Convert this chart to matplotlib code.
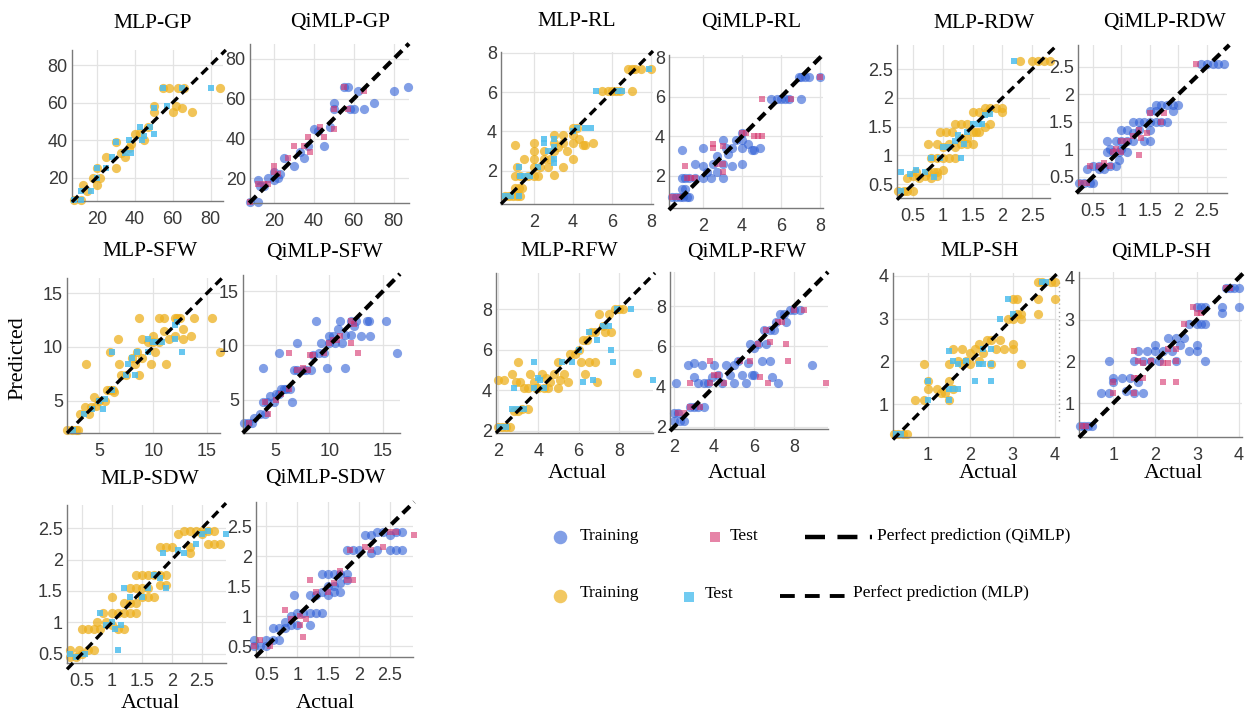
import matplotlib
matplotlib.use("Agg")
import matplotlib.pyplot as plt
from matplotlib.ticker import FixedLocator, FuncFormatter

# ---------------- data (actual, predicted) ----------------
GP_MLP_TRAIN = [(8,8),(12,8),(13,16),(15,13),(18,20),(20,16),(22,20),(20,25),(25,31),(30,25),(30,39),(33,33),(35,31),(37,36),(38,38),(40,43),(43,44),(45,40),(47,47),(50,55),(50,58),(55,68),(58,68),(60,55),(62,58),(63,68),(65,57),(66,68),(70,55),(85,68)]
GP_MLP_TEST = [(8,8),(12,8),(12,13),(17,13),(20,20),(20,25),(25,25),(28,31),(30,39),(35,33),(37,40),(38,33),(43,47),(44,40),(45,42),(48,47),(50,43),(50,57),(55,68),(57,58),(65,68),(80,68)]
GP_QI_TRAIN = [(8,8),(12,8),(12,19),(13,16),(15,16),(17,20),(20,19),(20,23),(22,20),(23,22),(25,30),(30,26),(33,33),(35,30),(37,36),(40,45),(42,44),(45,36),(48,46),(50,55),(50,58),(55,66),(57,66),(58,55),(60,55),(62,64),(65,55),(70,58),(80,64),(87,66)]
GP_QI_TEST = [(8,8),(12,17),(15,17),(17,17),(20,23),(20,26),(22,22),(27,30),(30,36),(35,36),(37,41),(38,33),(43,46),(45,41),(50,45),(50,55),(55,66),(57,55),(65,64)]

RL_MLP_TRAIN = [(0.5,0.7),(0.7,0.7),(0.9,0.7),(1.1,0.7),(1.3,0.7),(1.0,1.1),(1.2,1.1),(1.4,1.1),(1.0,1.75),(1.3,1.75),(1.7,1.75),(2.0,1.75),(2.2,1.75),(1.1,2.2),(1.0,3.3),(1.5,2.6),(2.0,2.2),(2.0,2.6),(2.0,3.0),(2.0,3.4),(2.3,2.2),(2.5,2.6),(2.5,3.0),(2.7,2.2),(2.8,2.6),(3.0,1.8),(3.0,3.0),(3.0,3.4),(3.0,3.8),(3.2,3.2),(3.5,3.4),(3.5,3.8),(3.5,2.2),(3.7,3.0),(4.0,2.6),(4.0,3.4),(4.0,3.8),(4.0,4.2),(4.2,4.2),(4.3,3.6),(4.5,3.3),(4.6,3.3),(5.0,3.4),(5.5,6.05),(5.8,6.05),(6.0,6.05),(6.2,6.05),(6.4,6.05),(7.0,6.05),(6.8,7.2),(7.0,7.2),(7.2,7.2),(7.5,7.2),(8.0,7.2)]
RL_MLP_TEST = [(0.5,0.7),(0.8,0.7),(1.2,0.7),(1.3,1.75),(1.2,2.2),(1.5,1.75),(1.8,1.75),(2.2,2.2),(2.5,3.4),(2.5,3.6),(2.7,3.0),(3.0,2.4),(3.0,3.6),(3.0,2.6),(3.0,3.2),(4.0,4.0),(4.2,4.2),(4.6,4.2),(4.9,4.2),(5.2,6.05),(6.3,6.05),(6.5,6.05),(7.9,7.2)]
RL_QI_TRAIN = [(0.4,0.9),(0.6,0.9),(0.8,0.9),(1.0,0.9),(1.2,0.9),(1.3,0.9),(0.9,1.3),(1.1,1.3),(0.9,1.9),(1.1,1.9),(0.9,3.3),(1.3,1.9),(1.6,1.9),(1.6,2.6),(2.0,1.9),(2.0,2.5),(2.0,3.4),(2.2,2.2),(2.4,1.9),(2.5,2.6),(2.7,2.2),(2.7,3.0),(3.0,1.9),(3.0,2.6),(3.0,3.8),(3.2,3.4),(3.3,3.1),(3.5,2.5),(3.5,3.4),(3.7,3.8),(4.0,2.6),(4.0,3.4),(4.0,3.8),(4.0,4.15),(4.3,3.6),(4.5,3.3),(4.6,3.3),(4.9,3.4),(5.5,5.9),(5.8,5.9),(6.0,5.9),(6.2,5.9),(6.4,5.9),(7.0,5.9),(6.9,7.0),(7.0,7.0),(7.2,7.0),(7.4,7.0),(8.0,7.0)]
RL_QI_TEST = [(0.4,0.9),(0.7,0.9),(1.1,2.5),(1.2,1.9),(1.4,1.9),(1.6,1.9),(2.5,3.6),(2.5,3.4),(2.7,2.6),(3.0,2.2),(3.0,3.5),(3.0,2.6),(4.0,4.15),(4.2,4.15),(4.6,4.0),(4.8,4.0),(5.0,4.0),(5.0,5.9),(6.5,5.9),(8.0,7.0)]

RDW_MLP_TRAIN = [(0.25,0.38),(0.35,0.38),(0.4,0.38),(0.5,0.38),(0.4,0.6),(0.5,0.65),(0.55,0.72),(0.6,0.6),(0.7,0.65),(0.75,0.72),(0.8,0.6),(0.85,0.72),(0.9,0.65),(0.9,0.72),(1.0,0.75),(0.8,0.95),(0.9,0.95),(1.0,0.95),(1.1,0.95),(1.2,0.95),(0.75,1.2),(0.9,1.2),(1.0,1.15),(1.1,1.2),(1.2,1.15),(1.3,1.2),(1.4,1.2),(1.5,1.2),(0.95,1.4),(1.05,1.4),(1.15,1.4),(1.2,1.55),(1.3,1.55),(1.4,1.55),(1.5,1.4),(1.55,1.4),(1.6,1.4),(1.7,1.5),(1.8,1.55),(1.3,1.3),(1.4,1.3),(1.5,1.75),(1.6,1.75),(1.7,1.82),(1.8,1.82),(1.9,1.82),(2.0,1.82),(1.75,1.75),(2.0,1.75),(2.3,2.65),(2.5,2.65),(2.6,2.65),(2.7,2.65),(2.8,2.65)]
RDW_MLP_TEST = [(0.3,0.38),(0.3,0.72),(0.45,0.68),(0.55,0.75),(0.7,0.72),(0.85,0.62),(0.8,0.95),(0.95,0.95),(1.0,1.15),(1.1,1.15),(1.2,1.25),(1.25,1.35),(1.3,0.95),(1.35,1.2),(1.4,1.4),(1.5,1.55),(1.6,1.55),(1.65,1.55),(1.7,1.7),(1.8,1.72),(2.2,2.65)]
RDW_QI_TRAIN = [(0.25,0.4),(0.35,0.4),(0.45,0.4),(0.5,0.4),(0.4,0.65),(0.5,0.7),(0.6,0.65),(0.6,0.7),(0.7,0.65),(0.8,0.7),(0.9,0.7),(0.95,0.8),(0.75,0.95),(0.85,0.95),(0.95,0.95),(0.8,1.0),(1.0,1.0),(1.1,0.95),(0.75,1.15),(0.9,1.15),(1.0,1.15),(1.1,1.15),(1.2,1.15),(1.4,1.15),(1.5,1.15),(1.0,1.35),(1.1,1.35),(1.2,1.3),(1.3,1.35),(1.5,1.35),(1.2,1.5),(1.3,1.5),(1.4,1.5),(1.5,1.5),(1.6,1.5),(1.7,1.5),(1.8,1.5),(1.5,1.7),(1.6,1.7),(1.6,1.8),(1.7,1.8),(1.8,1.8),(1.9,1.8),(2.0,1.8),(1.9,1.7),(2.4,2.55),(2.5,2.55),(2.6,2.55),(2.7,2.55),(2.8,2.55)]
RDW_QI_TEST = [(0.3,0.4),(0.4,0.4),(0.45,0.7),(0.6,0.7),(0.7,0.75),(0.8,0.7),(0.85,0.95),(0.9,1.0),(1.0,1.15),(1.1,1.15),(1.2,1.25),(1.3,1.35),(1.35,1.2),(1.45,1.3),(1.5,1.65),(1.7,1.5),(1.75,1.65),(1.0,0.95),(1.3,0.9),(2.3,2.55)]

SFW_MLP_TRAIN = [(2.0,2.3),(2.5,2.3),(3.0,2.3),(2.8,2.3),(3.2,3.8),(3.7,4.4),(4.0,3.8),(4.2,4.4),(4.5,5.3),(4.7,4.5),(5.0,5.0),(5.5,5.0),(5.7,6.0),(6.0,6.0),(6.3,6.0),(6.4,5.8),(3.8,8.4),(6.0,9.5),(6.7,10.7),(7.0,7.4),(7.5,7.4),(6.8,8.4),(8.3,8.4),(8.7,7.4),(8.7,12.7),(8.0,9.0),(8.5,9.5),(9.0,9.0),(9.0,10.7),(9.5,10.5),(9.8,8.4),(10.0,10.5),(10.0,11.0),(10.2,9.5),(10.5,10.5),(10.5,12.7),(11.0,11.5),(11.2,8.4),(11.0,12.7),(11.5,10.7),(12.0,12.7),(12.0,11.0),(12.2,12.7),(12.5,12.7),(12.8,11.7),(12.8,10.7),(13.5,11.0),(13.8,12.7),(15.5,12.7),(16.2,9.5)]
SFW_MLP_TEST = [(2.6,2.3),(3.6,3.8),(4.3,4.2),(5.0,5.0),(5.3,4.2),(5.5,5.2),(6.2,9.5),(6.2,6.0),(7.5,7.4),(7.7,8.4),(8.0,9.0),(8.3,7.4),(8.5,9.5),(9.5,10.7),(9.5,9.5),(10.0,10.5),(10.3,10.5),(10.8,10.5),(12.0,10.7),(12.0,12.0),(12.2,12.3),(12.7,9.5)]
SFW_QI_TRAIN = [(2.0,2.8),(2.4,2.8),(2.8,2.8),(3.0,3.3),(3.5,3.7),(3.8,4.8),(4.0,3.7),(4.2,4.8),(4.5,5.3),(4.8,4.8),(5.0,5.5),(5.3,5.5),(5.5,6.0),(5.8,6.0),(6.0,6.0),(6.3,6.0),(6.5,4.8),(3.8,7.9),(5.3,9.3),(6.7,7.7),(7.0,7.7),(7.0,10.2),(7.5,7.7),(7.8,7.7),(8.3,7.7),(8.5,9.1),(8.8,12.3),(9.0,9.3),(9.2,10.2),(9.5,9.3),(9.8,7.9),(10.0,10.9),(10.0,10.2),(10.3,10.9),(10.5,10.2),(10.8,11.5),(11.0,12.3),(11.2,10.2),(11.5,7.9),(11.5,11.0),(12.0,12.3),(12.0,11.0),(12.3,11.8),(12.5,12.3),(13.0,10.9),(13.5,12.3),(13.8,10.9),(13.7,12.3),(15.3,12.3),(16.3,9.3)]
SFW_QI_TEST = [(2.5,2.8),(4.3,3.7),(4.0,4.8),(5.0,5.0),(5.5,5.5),(6.2,6.0),(6.2,9.3),(7.0,7.7),(7.5,7.9),(8.0,7.7),(8.2,9.1),(8.5,9.1),(9.5,9.3),(10.0,10.2),(10.3,10.5),(10.7,10.5),(11.0,10.9),(12.0,10.2),(12.0,12.3),(12.3,12.0),(12.7,9.3)]

RFW_MLP_TRAIN = [(2.0,2.2),(2.2,2.2),(2.4,2.2),(2.6,2.2),(2.8,3.0),(3.0,3.0),(3.2,3.1),(3.5,3.1),(2.0,4.5),(2.3,4.5),(2.7,4.8),(2.9,4.4),(3.0,5.4),(3.1,4.4),(3.3,4.1),(3.5,4.1),(3.6,4.8),(3.8,4.4),(3.9,4.1),(4.0,4.1),(4.2,4.8),(4.3,4.1),(4.4,4.6),(4.5,4.1),(4.6,4.4),(4.8,4.8),(5.0,4.1),(5.0,5.4),(5.1,4.5),(5.3,4.8),(5.5,4.4),(5.6,5.8),(5.8,5.8),(6.0,6.0),(6.1,5.4),(6.2,6.5),(6.3,4.8),(6.4,6.5),(6.5,5.4),(6.6,6.9),(6.8,6.9),(6.8,5.4),(6.9,4.4),(7.0,7.8),(7.2,7.2),(7.3,6.9),(7.5,7.8),(7.6,6.9),(7.8,8.0),(8.0,8.0),(8.2,8.0),(8.9,4.85)]
RFW_MLP_TEST = [(2.1,2.2),(2.4,2.2),(2.7,3.1),(3.0,3.1),(3.3,3.1),(2.8,4.1),(3.8,5.4),(3.8,4.1),(4.0,4.6),(4.1,4.5),(4.3,4.1),(5.2,5.4),(5.7,5.4),(6.0,6.0),(6.2,4.4),(6.5,6.9),(6.7,4.5),(6.9,6.5),(7.2,7.2),(7.5,7.2),(7.6,6.0),(7.7,5.4),(7.9,8.0),(8.6,8.0),(9.7,4.5)]
RFW_QI_TRAIN = [(2.0,2.3),(2.3,2.3),(2.5,2.3),(2.0,2.7),(2.2,2.7),(2.8,3.0),(3.0,3.0),(3.2,3.0),(3.5,3.0),(2.1,4.2),(2.7,5.1),(3.0,5.2),(3.0,4.5),(3.2,4.2),(3.4,5.1),(3.5,4.2),(3.7,4.2),(3.9,4.5),(4.0,5.1),(4.2,4.6),(4.4,4.2),(4.6,5.1),(4.8,4.6),(5.0,4.2),(5.2,5.3),(5.4,4.6),(5.6,4.2),(5.7,5.2),(5.8,6.1),(5.9,4.6),(6.0,5.9),(6.2,6.1),(6.4,5.3),(6.5,6.8),(6.6,6.1),(6.8,6.8),(6.9,4.5),(7.0,6.8),(7.1,7.2),(7.2,4.2),(7.3,7.6),(7.5,7.6),(7.6,7.2),(7.8,7.8),(8.0,7.8),(8.3,7.8),(8.9,5.1),(6.0,4.6),(5.0,5.1),(6.8,5.3)]
RFW_QI_TEST = [(2.2,2.7),(2.5,2.7),(2.8,3.0),(3.3,3.0),(2.8,4.2),(3.8,5.3),(3.8,4.2),(4.0,4.6),(4.2,4.6),(4.5,4.2),(5.3,5.3),(5.8,5.3),(6.2,6.1),(6.3,4.5),(6.6,6.8),(6.8,6.2),(6.7,4.2),(7.2,7.2),(7.4,7.2),(7.6,6.1),(7.7,5.3),(8.0,7.8),(8.5,7.8),(9.6,4.2)]

SH_MLP_TRAIN = [(0.2,0.3),(0.3,0.3),(0.4,0.3),(0.5,0.3),(0.7,1.1),(0.9,1.1),(0.9,1.95),(1.0,1.35),(1.0,1.55),(1.2,1.35),(1.3,1.25),(1.4,1.25),(1.5,1.1),(1.5,1.55),(1.6,1.35),(1.6,2.3),(1.5,1.95),(1.7,2.0),(1.8,1.95),(1.8,2.3),(1.9,2.0),(2.0,1.95),(2.0,2.2),(2.1,2.3),(2.2,2.0),(2.2,2.4),(2.3,2.2),(2.4,2.5),(2.5,1.95),(2.5,2.5),(2.6,2.3),(2.7,2.5),(2.8,2.3),(3.0,2.3),(3.0,2.4),(3.2,1.95),(2.9,3.0),(3.0,3.0),(3.1,3.1),(3.2,3.0),(3.2,3.1),(3.1,3.45),(3.0,3.45),(3.6,3.45),(3.6,3.1),(3.7,3.85),(3.9,3.85),(4.0,3.85),(4.0,3.45),(3.6,3.85)]
SH_MLP_TEST = [(0.25,0.3),(0.35,0.3),(1.0,1.1),(1.0,1.55),(1.5,1.1),(1.5,1.35),(1.5,2.25),(1.6,1.35),(1.7,1.35),(1.6,2.0),(1.7,1.95),(1.9,2.0),(2.1,1.55),(2.2,1.95),(2.3,1.95),(2.3,2.3),(2.5,1.55),(2.5,2.3),(2.5,1.95),(2.7,3.0),(2.9,3.45),(3.0,3.1),(3.7,3.85),(3.8,3.85)]
SH_QI_TRAIN = [(0.2,0.45),(0.3,0.45),(0.4,0.45),(0.5,0.45),(0.7,1.25),(0.9,1.25),(0.9,2.0),(1.0,1.5),(1.0,1.6),(1.2,1.6),(1.3,1.3),(1.4,1.6),(1.5,1.25),(1.6,1.5),(1.7,1.25),(1.5,2.0),(1.6,2.25),(1.7,2.0),(1.8,2.25),(1.9,2.0),(2.0,2.25),(2.0,2.4),(2.1,2.0),(2.2,2.25),(2.3,2.55),(2.4,2.25),(2.5,2.0),(2.5,2.55),(2.6,2.4),(2.7,2.55),(2.8,2.25),(3.0,2.25),(3.0,2.4),(3.2,2.0),(2.8,2.9),(3.0,2.9),(3.1,2.9),(3.2,2.9),(3.1,3.3),(3.0,3.3),(3.2,3.3),(3.6,3.3),(3.6,3.15),(3.7,3.75),(3.9,3.75),(4.0,3.75),(4.0,3.3),(3.8,3.75)]
SH_QI_TEST = [(0.25,0.45),(0.35,0.45),(1.0,1.25),(1.0,1.5),(1.5,1.25),(1.5,1.6),(1.5,2.25),(1.6,1.6),(1.7,1.6),(1.6,2.0),(1.7,1.95),(1.9,2.0),(2.2,1.5),(2.2,1.95),(2.3,1.95),(2.3,2.3),(2.5,1.5),(2.5,2.3),(2.5,2.0),(2.7,2.9),(2.9,3.3),(3.0,3.15),(3.1,3.15),(3.7,3.75),(3.8,3.75)]

SDW_MLP_TRAIN = [(0.3,0.45),(0.4,0.45),(0.5,0.5),(0.3,0.55),(0.45,0.55),(0.6,0.55),(0.7,0.55),(0.5,0.9),(0.6,0.9),(0.7,0.9),(0.8,0.9),(0.75,1.0),(0.9,1.0),(1.0,0.95),(1.1,0.9),(1.2,0.9),(0.85,1.15),(1.0,1.15),(1.1,1.15),(1.2,1.15),(1.3,1.15),(1.4,1.15),(1.0,1.4),(1.2,1.3),(1.3,1.3),(1.4,1.3),(1.5,1.4),(1.6,1.4),(1.7,1.4),(1.3,1.55),(1.4,1.55),(1.5,1.55),(1.6,1.55),(1.8,1.6),(1.9,1.6),(1.4,1.75),(1.5,1.75),(1.6,1.75),(1.7,1.75),(1.8,1.75),(1.9,1.75),(1.8,2.2),(1.9,2.2),(2.0,2.2),(2.3,2.2),(2.3,2.1),(2.1,2.4),(2.2,2.45),(2.3,2.45),(2.4,2.45),(2.5,2.45),(2.6,2.45),(2.7,2.45),(2.6,2.25),(2.7,2.25),(2.8,2.25),(2.5,2.4)]
SDW_MLP_TEST = [(0.3,0.5),(0.4,0.45),(0.55,0.5),(0.8,1.15),(0.9,0.95),(1.0,1.0),(1.05,0.9),(1.1,0.55),(1.15,0.95),(1.2,1.55),(1.3,1.4),(1.5,1.4),(1.6,1.55),(1.7,1.75),(1.8,1.7),(1.9,1.55),(1.85,2.1),(2.1,2.15),(2.2,2.1),(2.4,2.25),(2.5,2.4),(2.6,2.45),(2.9,2.4)]
SDW_QI_TRAIN = [(0.3,0.5),(0.4,0.5),(0.5,0.5),(0.3,0.6),(0.5,0.6),(0.6,0.6),(0.7,0.6),(0.6,0.8),(0.7,0.8),(0.8,0.8),(0.9,0.85),(0.8,0.9),(0.9,1.0),(1.0,1.05),(1.1,1.05),(1.0,0.85),(1.2,0.85),(1.2,1.05),(1.3,1.05),(1.4,1.05),(0.95,1.35),(1.2,1.35),(1.3,1.35),(1.4,1.4),(1.5,1.35),(1.6,1.4),(1.7,1.4),(1.5,1.5),(1.6,1.5),(1.7,1.55),(1.8,1.6),(1.4,1.7),(1.5,1.7),(1.6,1.7),(1.7,1.7),(1.8,1.7),(1.8,2.1),(1.9,2.1),(2.0,2.1),(2.2,2.05),(2.3,2.1),(2.1,2.35),(2.2,2.35),(2.3,2.4),(2.4,2.4),(2.5,2.35),(2.6,2.4),(2.7,2.4),(2.5,2.1),(2.6,2.1),(2.7,2.1)]
SDW_QI_TEST = [(0.3,0.5),(0.4,0.6),(0.55,0.5),(0.8,1.1),(0.9,0.95),(1.05,1.0),(1.05,0.85),(1.1,0.65),(1.15,0.95),(1.2,1.6),(1.3,1.4),(1.5,1.4),(1.6,1.55),(1.7,1.75),(1.8,1.6),(1.9,1.6),(1.85,2.1),(2.1,2.15),(2.2,2.1),(2.4,2.15),(2.5,2.4),(2.6,2.4),(2.9,2.35)]

TICKS_GP = [20, 40, 60, 80]
TICKS_RL = [2, 4, 6, 8]
TICKS_RDW = [0.5, 1, 1.5, 2, 2.5]
TICKS_SFW = [5, 10, 15]
TICKS_RFW = [2, 4, 6, 8]
TICKS_SH = [1, 2, 3, 4]
TICKS_SDW = [0.5, 1, 1.5, 2, 2.5]

LEGEND_LABELS = ["Training", "Test", "Perfect prediction (QiMLP)", "Training", "Test", "Perfect prediction (MLP)"]

# ---------------- styling ----------------
W, H = 1249, 713
C_MLP_TR = "#EDB120"
C_MLP_TE = "#4DBEEE"
C_QI_TR = "#2F5FD6"
C_QI_TE = "#D6336C"
SERIF = ["Liberation Serif", "DejaVu Serif"]
SANS = ["Liberation Sans", "DejaVu Sans"]

fig = plt.figure(figsize=(W / 100, H / 100), dpi=100)
fig.patch.set_facecolor("white")


def add_ax(l, r, t, b):
    return fig.add_axes([l / W, 1 - b / H, (r - l) / W, (b - t) / H])


def panel(box, xlim, ylim, ticks, train, test, qi):
    ax = add_ax(*box)
    ax.set_xlim(*xlim)
    ax.set_ylim(*ylim)
    ax.xaxis.set_major_locator(FixedLocator(ticks))
    ax.yaxis.set_major_locator(FixedLocator(ticks))
    fmt = FuncFormatter(lambda v, p: "%g" % v)
    ax.xaxis.set_major_formatter(fmt)
    ax.yaxis.set_major_formatter(fmt)
    ax.grid(True, color="#e3e3e3", lw=0.9)
    ax.set_axisbelow(True)
    for s in ("top", "right"):
        ax.spines[s].set_visible(False)
    for s in ("left", "bottom"):
        ax.spines[s].set_color("#7a7a7a")
        ax.spines[s].set_linewidth(1.0)
    ax.tick_params(axis="x", length=0, pad=7, labelsize=13, colors="#383838")
    ax.tick_params(axis="y", length=0, pad=3, labelsize=13, colors="#383838")
    for lab in ax.get_xticklabels() + ax.get_yticklabels():
        lab.set_family(SANS)
    tx = [p[0] for p in train]
    ty = [p[1] for p in train]
    ex = [p[0] for p in test]
    ey = [p[1] for p in test]
    if qi:
        ax.scatter(tx, ty, s=44, marker="o", color=C_QI_TR, alpha=0.6, lw=0, zorder=2, clip_on=False)
        ax.scatter(ex, ey, s=24, marker="s", color=C_QI_TE, alpha=0.6, lw=0, zorder=3, clip_on=False)
        lw, dash = 3.0, (2.4, 1.4)
    else:
        ax.scatter(tx, ty, s=44, marker="o", color=C_MLP_TR, alpha=0.75, lw=0, zorder=2, clip_on=False)
        ax.scatter(ex, ey, s=24, marker="s", color=C_MLP_TE, alpha=0.85, lw=0, zorder=3, clip_on=False)
        lw, dash = 2.4, (2.6, 1.6)
    lo = min(xlim[0], ylim[0])
    hi = max(xlim[1], ylim[1])
    ax.plot([lo, hi], [lo, hi], color="black", lw=lw, dashes=dash, zorder=4, clip_on=False)
    return ax


# Row 1
panel((72, 223, 50, 201), (7, 86.5), (7.5, 88), TICKS_GP, GP_MLP_TRAIN, GP_MLP_TEST, False)
panel((250, 409, 44, 203), (8, 87.7), (7.6, 87.5), TICKS_GP, GP_QI_TRAIN, GP_QI_TEST, True)
panel((501, 653, 52, 204), (0.3, 8.1), (0.3, 8.05), TICKS_RL, RL_MLP_TRAIN, RL_MLP_TEST, False)
panel((669, 823, 55, 208), (0.26, 8.14), (0.36, 8.12), TICKS_RL, RL_QI_TRAIN, RL_QI_TEST, True)
panel((897, 1050, 45, 198), (0.23, 2.8), (0.26, 2.92), TICKS_RDW, RDW_MLP_TRAIN, RDW_MLP_TEST, False)
panel((1078, 1227, 45, 193), (0.24, 2.85), (0.21, 2.89), TICKS_RDW, RDW_QI_TRAIN, RDW_QI_TEST, True)
# Row 2
panel((67, 220, 278, 433), (2.0, 16.2), (2.0, 16.4), TICKS_SFW, SFW_MLP_TRAIN, SFW_MLP_TEST, False)
panel((243, 400, 275, 433), (1.94, 16.6), (1.92, 16.5), TICKS_SFW, SFW_QI_TRAIN, SFW_QI_TEST, True)
panel((496, 653, 273, 433), (1.9, 9.7), (1.9, 9.8), TICKS_RFW, RFW_MLP_TRAIN, RFW_MLP_TEST, False)
panel((670, 828, 272, 429), (1.8, 9.7), (1.9, 9.7), TICKS_RFW, RFW_QI_TRAIN, RFW_QI_TEST, True)
ax_sh = panel((893, 1059, 273, 437), (0.17, 4.1), (0.23, 4.07), TICKS_SH, SH_MLP_TRAIN, SH_MLP_TEST, False)
ax_sh.plot([4.1, 4.1], [0.6, 3.9], color="#aaaaaa", lw=1.0, ls=(0, (1, 2)), clip_on=False, zorder=1)
panel((1079, 1242, 272, 437), (0.18, 4.08), (0.19, 4.14), TICKS_SH, SH_QI_TRAIN, SH_QI_TEST, True)
# Row 3
panel((67, 226, 505, 663), (0.25, 2.9), (0.35, 2.87), TICKS_SDW, SDW_MLP_TRAIN, SDW_MLP_TEST, False)
panel((256, 413, 502, 657), (0.33, 2.88), (0.32, 2.9), TICKS_SDW, SDW_QI_TRAIN, SDW_QI_TEST, True)


def ftext(x, y, s, size, **kw):
    fig.text(x / W, 1 - y / H, s, fontsize=size, family=SERIF, ha=kw.pop("ha", "center"),
             va=kw.pop("va", "center"), color="black", **kw)


titles = [
    (153, 23, "MLP-GP"), (340, 23, "QiMLP-GP"), (577, 22, "MLP-RL"), (751, 22, "QiMLP-RL"),
    (984, 24, "MLP-RDW"), (1164, 22, "QiMLP-RDW"),
    (150, 252, "MLP-SFW"), (324, 252, "QiMLP-SFW"), (569, 252, "MLP-RFW"), (747, 252, "QiMLP-RFW"),
    (980, 252, "MLP-SH"), (1161, 252, "QiMLP-SH"),
    (150, 479, "MLP-SDW"), (325, 479, "QiMLP-SDW"),
]
for x, y, s in titles:
    ftext(x, y, s, 15.5)

for x, y in [(577, 473), (737, 473), (988, 473), (1173, 473), (150, 703), (325, 703)]:
    ftext(x, y, "Actual", 16)
ftext(18, 358, "Predicted", 16, rotation=90)

# ---------------- legend ----------------
lg = fig.add_axes([0, 0, 1, 1], facecolor="none")
lg.set_xlim(0, W)
lg.set_ylim(H, 0)
lg.axis("off")
lg.scatter([560], [537], s=95, marker="o", color=C_QI_TR, alpha=0.6, lw=0)
lg.scatter([715], [537], s=55, marker="s", color=C_QI_TE, alpha=0.6, lw=0)
lg.plot([805, 872], [537, 537], color="black", lw=3.2, dashes=(4.5, 2.8))
lg.scatter([560], [596], s=95, marker="o", color=C_MLP_TR, alpha=0.7, lw=0)
lg.scatter([689], [597], s=55, marker="s", color=C_MLP_TE, alpha=0.8, lw=0)
lg.plot([780, 848], [596, 596], color="black", lw=2.8, dashes=(3.8, 2.6))
leg_pos = [(580, 536), (730, 536), (877, 536), (580, 593), (705, 594), (853, 593)]
for (x, y), s in zip(leg_pos, LEGEND_LABELS):
    ftext(x, y, s, 12.5, ha="left")

fig.savefig("out.png", dpi=100, facecolor="white")
